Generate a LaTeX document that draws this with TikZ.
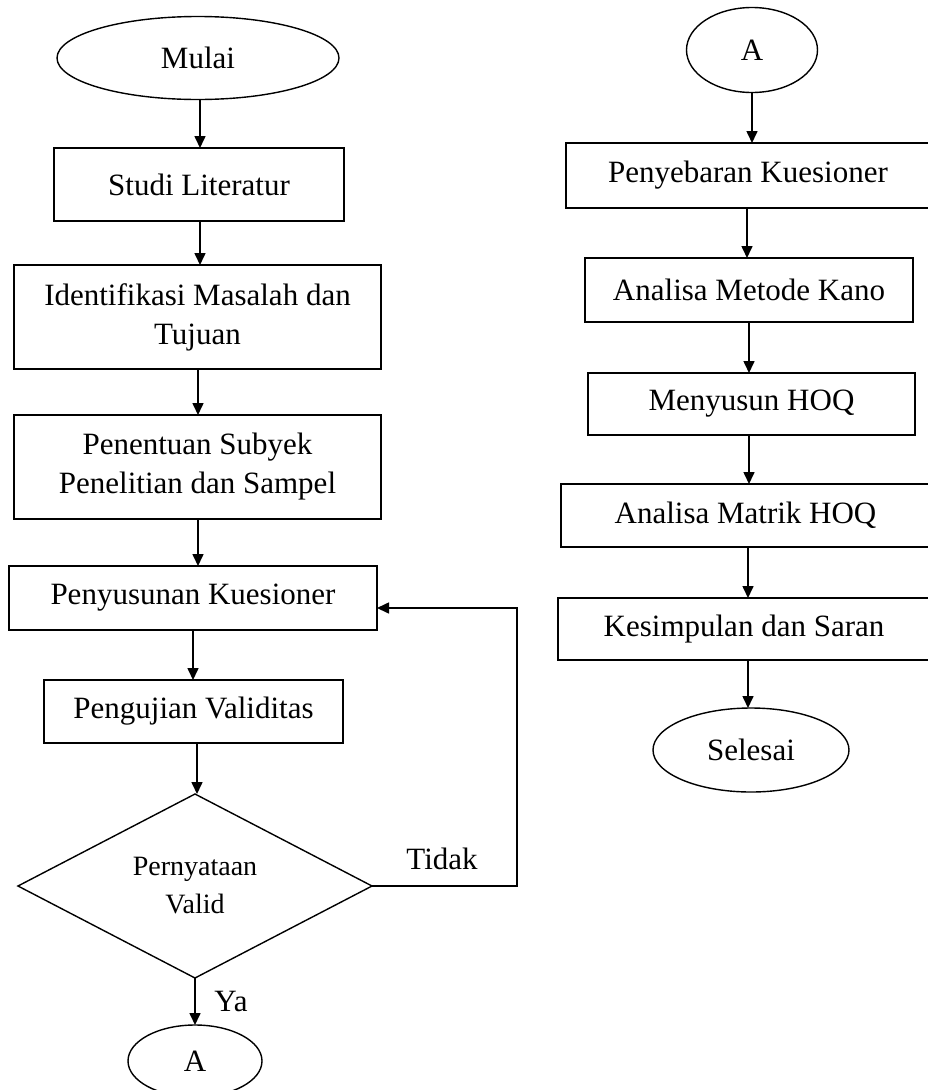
\documentclass[tikz,border=0pt]{standalone}
\usepackage{fontspec}
\setmainfont{Liberation Serif}
\usetikzlibrary{shapes.geometric,arrows.meta}
\begin{document}
\begin{tikzpicture}[x=1pt,y=-1pt,
  every node/.style={font=\fontsize{31}{39}\selectfont, inner sep=0pt, outer sep=0pt},
  box/.style={draw, line width=1.6pt, rectangle, align=center},
  oval/.style={draw, line width=1.4pt, ellipse},
  dec/.style={draw, line width=1.4pt, diamond, shape aspect=1.92, align=center,
    font=\fontsize{28}{38}\selectfont},
  arr/.style={line width=1.6pt, -{Triangle[length=12pt,width=11pt]}},
  lbl/.style={font=\fontsize{31}{36}\selectfont}]
\path[use as bounding box] (0,0) rectangle (928,1090);

% left column
\node[oval, minimum width=282pt, minimum height=83pt] (mulai) at (198,58) {Mulai};
\node[box, minimum width=290pt, minimum height=73pt] (studi) at (199,184.5) {Studi Literatur};
\node[box, minimum width=367pt, minimum height=104pt] (ident) at (197.5,317) {Identifikasi Masalah dan\\Tujuan};
\node[box, minimum width=367pt, minimum height=104pt] (penent) at (197.5,467) {Penentuan Subyek\\Penelitian dan Sampel};
\node[box, minimum width=368pt, minimum height=64pt] (penyus) at (193,598) {Penyusunan Kuesioner};
\node[box, minimum width=299pt, minimum height=63pt] (uji) at (193.5,711.5) {Pengujian Validitas};
\node[dec, minimum width=354pt, minimum height=184pt] (valid) at (195,886) {Pernyataan\\Valid};
\node[oval, minimum width=134pt, minimum height=72pt] (a1) at (195,1061) {A};
\node[lbl] (tidak) at (442,859) {Tidak};
\node[lbl] (ya) at (231,1001) {Ya};
\coordinate (rt) at (517,608);

\draw[arr] (mulai.south -| 200,0) -- (studi.north -| 200,0);
\draw[arr] (studi.south -| 200,0) -- (ident.north -| 200,0);
\draw[arr] (ident.south -| 198,0) -- (penent.north -| 198,0);
\draw[arr] (penent.south -| 198,0) -- (penyus.north -| 198,0);
\draw[arr] (penyus.south -| 193,0) -- (uji.north -| 193,0);
\draw[arr] (uji.south -| 197,0) -- (valid.north -| 197,0);
\draw[arr] (valid.south) -- (valid.south |- a1.north);
\draw[arr] (valid.east) -| (rt) -- (rt -| penyus.east);

% right column
\node[oval, minimum width=131pt, minimum height=85pt] (a2) at (752,50) {A};
\node[box, minimum width=364pt, minimum height=65pt] (sebar) at (748,175.5) {Penyebaran Kuesioner};
\node[box, minimum width=328pt, minimum height=64pt] (kano) at (749,290) {Analisa Metode Kano};
\node[box, minimum width=327pt, minimum height=62pt] (hoq) at (751.5,404) {Menyusun HOQ};
\node[box, minimum width=369pt, minimum height=63pt] (matrik) at (745.5,515.5) {Analisa Matrik HOQ};
\node[box, minimum width=372pt, minimum height=62pt] (simpul) at (744,629) {Kesimpulan dan Saran};
\node[oval, minimum width=196pt, minimum height=84pt] (selesai) at (751,750) {Selesai};

\draw[arr] (a2.south) -- (a2.south |- sebar.north);
\draw[arr] (sebar.south -| 747,0) -- (kano.north -| 747,0);
\draw[arr] (kano.south) -- (kano.south |- hoq.north);
\draw[arr] (hoq.south -| 749,0) -- (matrik.north -| 749,0);
\draw[arr] (matrik.south -| 748,0) -- (simpul.north -| 748,0);
\draw[arr] (simpul.south -| 748,0) -- (selesai.north -| 748,0);
\end{tikzpicture}
\end{document}
